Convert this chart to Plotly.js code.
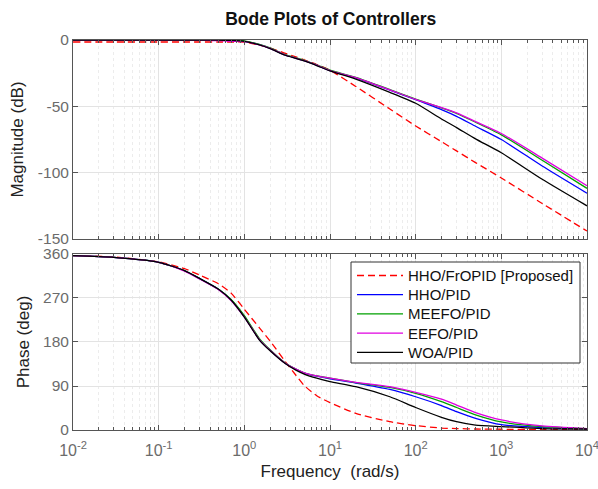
<!DOCTYPE html>
<html><head><meta charset="utf-8">
<script src="https://cdn.plot.ly/plotly-3.0.1.min.js"></script>
<style>body{margin:0;background:#fff}#chart{width:598px;height:489px}</style>
</head><body><div id="chart"></div>
<script>
// Frequencies (rad/s)
const freq = [0.01, 0.03, 0.1, 0.2, 0.3, 0.5, 0.7, 1, 1.5, 2, 3, 4, 5, 7, 10, 20, 50, 100, 200, 300, 500, 1000, 3000, 10000];

const seriesNames = ["HHO/FrOPID [Proposed]", "HHO/PID", "MEEFO/PID", "EEFO/PID", "WOA/PID"];
const seriesColors = ["#ff0000", "#0000ff", "#00a000", "#e000e0", "#000000"];

// Magnitude (dB)
const magHHOFrOPID = [-1.5, -1.5, -1.5, -1.5, -1.5, -1.5, -1.5, -1.6, -3.8, -6, -10, -12.7, -15, -18.5, -22.8, -35, -52, -64.8, -76.6, -83.6, -92.4, -104, -123.2, -144];
const magHHOPID    = [0, 0, 0, 0, 0, 0, -0.3, -1, -3.5, -6.3, -11.3, -13.7, -15.6, -19, -23, -28.6, -37.8, -45, -52.5, -57.5, -65, -75, -95, -115.5];
const magMEEFOPID  = [0, 0, 0, 0, 0, 0, 0, -0.6, -3.3, -6.0, -11.0, -13.4, -15.3, -18.7, -22.7, -28.2, -37.4, -44.6, -51.2, -55.4, -62, -71.5, -90.6, -111.8];
const magEEFOPID   = [0, 0, 0, 0, 0, -0.5, -1, -1.2, -3.6, -6.3, -11.3, -13.7, -15.6, -19, -23, -28.4, -37.6, -44.7, -51, -55, -61.5, -70.5, -89, -109.8];
const magWOAPID    = [0, 0, 0, 0, 0, 0, -0.3, -1, -3.7, -6.5, -11.5, -13.9, -15.8, -19.3, -23.3, -29.5, -39.5, -47.7, -59.5, -66, -74.5, -85, -105, -125];

// Phase (deg)
const phHHOFrOPID = [356.5, 354, 344, 330, 317, 299, 280, 247, 209, 182, 140, 112, 91, 70, 56, 34, 17, 9, 4, 3, 2, 1.5, 1, 1];
const phHHOPID    = [356.5, 353, 343, 326, 310, 288, 266, 232, 185, 163, 136.5, 124, 116.5, 110, 104.5, 96, 83, 68, 50, 37.5, 24, 11, 5, 2.5];
const phMEEFOPID  = [356.5, 353, 343, 326, 310, 288, 267, 234, 187, 164, 137, 124.5, 117, 110.5, 106, 97, 87, 75, 58, 46, 31, 16.5, 7, 3];
const phEEFOPID   = [356.5, 353, 343, 325, 309, 287, 265, 231, 185, 163, 136.5, 124.5, 117, 110.5, 106, 97.6, 88.6, 77, 63, 51, 35.5, 20.5, 8.4, 3];
const phWOAPID    = [356.5, 353, 343, 326, 310, 288, 266, 231, 184, 162, 136, 122.5, 114.5, 106, 99, 88.6, 68, 46, 26, 17, 10, 7, 3, 2];

const mags = [magHHOFrOPID, magHHOPID, magMEEFOPID, magEEFOPID, magWOAPID];
const phases = [phHHOFrOPID, phHHOPID, phMEEFOPID, phEEFOPID, phWOAPID];

const xTickVals = [0.01, 0.1, 1, 10, 100, 1000, 10000];
const xTickText = ["10<sup>-2</sup>", "10<sup>-1</sup>", "10<sup>0</sup>", "10<sup>1</sup>", "10<sup>2</sup>", "10<sup>3</sup>", "10<sup>4</sup>"];
const magTickVals = [0, -50, -100, -150];
const magTickText = ["0", "-50", "-100", "-150"];
const phTickVals = [0, 90, 180, 270, 360];
const phTickText = ["0", "90", "180", "270", "360"];
const minorVals = [];
for (let d = -2; d < 4; d++) for (let k = 2; k <= 9; k++) minorVals.push(k * Math.pow(10, d));

const traces = [];
seriesNames.forEach((n, i) => {
  const line = {color: seriesColors[i], width: 1.3, shape: 'spline', smoothing: 0.6};
  if (i === 0) line.dash = '7px,4px';
  traces.push({x: freq, y: mags[i], xaxis: 'x', yaxis: 'y', mode: 'lines', line: line, showlegend: false, name: n});
  traces.push({x: freq, y: phases[i], xaxis: 'x2', yaxis: 'y2', mode: 'lines', line: line, showlegend: false, name: n});
});

// Custom legend (inside phase axes, top-right), placed in pixel terms converted to paper coords
const W = 598, H = 489, ML = 73, MR = 11, MT = 40, MB = 59;
const PW = W - ML - MR, PH = H - MT - MB;
const px = v => (v - ML) / PW;
const py = v => (H - MB - v) / PH;
const legBox = {x0: 351, x1: 580, y0: 262, y1: 363};
const rowY0 = 275.5, rowStep = 19.2;
const shapes = [{type: 'rect', xref: 'paper', yref: 'paper', x0: px(legBox.x0), x1: px(legBox.x1),
  y0: py(legBox.y1), y1: py(legBox.y0), fillcolor: '#fff', line: {color: '#333', width: 1}, layer: 'above'}];
const annotations = [];
seriesNames.forEach((n, i) => {
  const yy = py(rowY0 + i * rowStep);
  const ln = {color: seriesColors[i], width: 1.3};
  if (i === 0) ln.dash = '7px,4px';
  shapes.push({type: 'line', xref: 'paper', yref: 'paper', x0: px(357), x1: px(403), y0: yy, y1: yy, line: ln, layer: 'above'});
  annotations.push({xref: 'paper', yref: 'paper', x: px(406), y: yy, xanchor: 'left', yanchor: 'middle',
    text: n, showarrow: false, font: {size: 15, color: '#111'}});
});

const FF = 'Liberation Sans, Arial, sans-serif';
const yTickFont = {family: FF, size: 15.5, color: '#6b6b6b'};
const xTickFont = {family: FF, size: 16, color: '#6b6b6b'};
const xBase = {
  type: 'log', range: [-2.0002, 4.0002], tickmode: 'array', tickvals: xTickVals, ticktext: xTickText,
  showline: true, linecolor: '#555', linewidth: 1, mirror: 'ticks', ticks: 'inside', ticklen: 5, tickcolor: '#555',
  showgrid: true, gridcolor: '#e3e3e3', gridwidth: 1, zeroline: false, tickfont: xTickFont, ticklabeloverflow: 'allow',
  minor: {tickmode: 'array', tickvals: minorVals, ticks: 'inside', ticklen: 3, tickcolor: '#555',
          showgrid: true, gridcolor: '#ececec', griddash: 'dot', gridwidth: 1}
};
const yBase = {
  showline: true, linecolor: '#555', mirror: 'ticks', ticks: 'inside', ticklen: 5, tickcolor: '#555',
  showgrid: true, gridcolor: '#e3e3e3', zeroline: false, tickfont: yTickFont, tickmode: 'array'
};
const layout = {
  width: W, height: H,
  margin: {l: ML, r: MR, t: MT, b: MB},
  paper_bgcolor: '#fff', plot_bgcolor: '#fff',
  font: {family: FF, color: '#222'},
  showlegend: false,
  title: {text: '<b>Bode Plots of Controllers</b>', x: 0.553, xanchor: 'center', y: 0.962, yanchor: 'middle',
          font: {size: 17.5, color: '#111'}},
  xaxis: Object.assign({}, xBase, {anchor: 'y', showticklabels: false, domain: [0, 1]}),
  yaxis: Object.assign({}, yBase, {domain: [0.4897, 1], anchor: 'x', range: [-150, 0],
          tickvals: magTickVals, ticktext: magTickText,
          title: {text: 'Magnitude (dB)', font: {size: 17, color: '#222'}, standoff: 9}}),
  xaxis2: Object.assign({}, xBase, {anchor: 'y2', domain: [0, 1], ticklabelstandoff: 6,
          title: {text: 'Frequency\u00a0 (rad/s)', font: {size: 17, color: '#222'}, standoff: 6}}),
  yaxis2: Object.assign({}, yBase, {domain: [0, 0.4513], anchor: 'x2', range: [0, 360],
          tickvals: phTickVals, ticktext: phTickText,
          title: {text: 'Phase (deg)', font: {size: 17, color: '#222'}, standoff: 9}}),
  shapes: shapes,
  annotations: annotations
};
Plotly.newPlot('chart', traces, layout, {staticPlot: true});
</script></body></html>
